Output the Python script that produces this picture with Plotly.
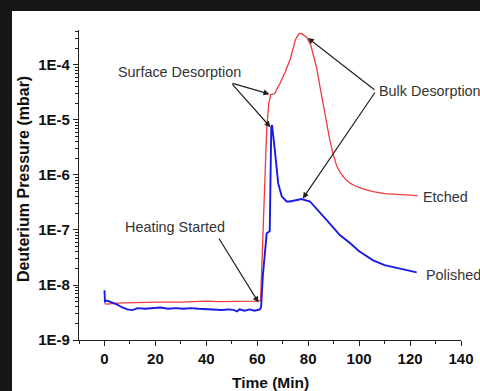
import plotly.graph_objects as go

# ---- data ----
etched_time = [0, 1, 5, 10, 20, 30, 40, 45, 50, 55, 60, 61.3, 61.8, 62.5, 63.7, 64.5, 65.3,
               66.2, 67, 68, 69, 71, 73, 75, 76.5, 77.5, 79.4, 81, 82, 83.3, 84.6, 86,
               87.2, 88.5, 89.8, 91.2, 92.6, 94.5, 96.4, 98.5, 101.5, 105.5, 110, 116, 123]
etched_pressure = [4.6e-9, 4.5e-9, 4.7e-9, 4.8e-9, 4.9e-9, 4.9e-9, 5.1e-9, 5.0e-9, 5.0e-9,
                   5.1e-9, 5.1e-9, 5.2e-9, 2.8e-8, 1.6e-7, 6.6e-6, 2.0e-5, 2.9e-5,
                   2.95e-5, 3.1e-5, 3.9e-5, 4.7e-5, 7.5e-5, 1.3e-4, 2.9e-4, 3.75e-4, 3.7e-4,
                   3.2e-4, 2.3e-4, 1.6e-4, 9e-5, 4.1e-5, 1.8e-5, 8.7e-6, 4.3e-6, 2.4e-6,
                   1.45e-6, 1.1e-6, 8.5e-7, 7.1e-7, 6.3e-7, 5.6e-7, 5.0e-7, 4.6e-7, 4.4e-7,
                   4.2e-7]

polished_time = [0, 0.2, 1, 2, 3, 5, 7, 9, 11, 13, 16, 19, 22, 25, 28, 31, 34, 37, 40, 43,
                 46, 49, 51, 52, 53, 55, 57, 59, 61, 61.5, 62.2, 63.7, 64.9, 65.5, 65.8,
                 66.9, 67.6, 68.2, 69.6, 71.5, 72.8, 75, 77.4, 80.7, 84.6, 88.5, 92.4,
                 96.4, 100, 105.5, 110, 116, 120, 122.6]
polished_pressure = [8e-9, 5e-9, 5.2e-9, 5.0e-9, 4.9e-9, 4.4e-9, 3.9e-9, 3.6e-9, 3.5e-9,
                     3.8e-9, 3.7e-9, 3.8e-9, 3.9e-9, 3.7e-9, 3.8e-9, 3.7e-9, 3.8e-9,
                     3.7e-9, 3.6e-9, 3.6e-9, 3.5e-9, 3.6e-9, 3.5e-9, 3.3e-9, 3.6e-9,
                     3.4e-9, 3.6e-9, 3.4e-9, 3.6e-9, 4e-9, 1.5e-8, 8.7e-8, 9.5e-8, 7.5e-6,
                     8.1e-6, 2.8e-6, 1.4e-6, 7.1e-7, 4.1e-7, 3.3e-7, 3.3e-7, 3.5e-7,
                     3.65e-7, 3.3e-7, 2.1e-7, 1.3e-7, 8.1e-8, 5.8e-8, 4.1e-8, 2.8e-8,
                     2.3e-8, 2.0e-8, 1.8e-8, 1.7e-8]

y_tick_values = [1e-9, 1e-8, 1e-7, 1e-6, 1e-5, 1e-4]
y_tick_labels = ["1E-9", "1E-8", "1E-7", "1E-6", "1E-5", "1E-4"]
x_tick_values = [0, 20, 40, 60, 80, 100, 120, 140]
x_title = "Time (Min)"
y_title = "Deuterium Pressure (mbar)"

FONT = "Liberation Sans, Arial, sans-serif"
TXT = "#333333"
ARROW = "#222222"

fig = go.Figure()
fig.add_trace(go.Scatter(x=etched_time, y=etched_pressure, mode="lines", name="Etched",
                         line=dict(color="#ee3b3b", width=1.3)))
fig.add_trace(go.Scatter(x=polished_time, y=polished_pressure, mode="lines", name="Polished",
                         line=dict(color="#1a1ae6", width=1.9)))

minor_y = [m * 10.0 ** e for e in range(-9, -3) for m in range(2, 10)]

# border shape (dark frame around white canvas)
fig.add_shape(type="rect", xref="paper", yref="paper",
              x0=-0.1754, x1=1.1, y0=-0.3, y1=1.0613,
              fillcolor="white", line=dict(width=0), layer="below")

def text_ann(x, logy, text, xanchor="center"):
    fig.add_annotation(x=x, y=logy, xref="x", yref="y", text=text, showarrow=False,
                       xanchor=xanchor, yanchor="middle",
                       font=dict(family=FONT, size=14.4, color=TXT))

def arrow_ann(x, logy, ax, alogy):
    fig.add_annotation(x=x, y=logy, xref="x", yref="y", ax=ax, ay=alogy,
                       axref="x", ayref="y", text="", showarrow=True,
                       arrowhead=2, arrowsize=1.0, arrowwidth=1.2, arrowcolor=ARROW,
                       standoff=0, startstandoff=0)

text_ann(29.4, -4.127, "Surface Desorption")
arrow_ann(64.8, -4.53, 49.7, -4.327)
arrow_ann(65.2, -5.13, 49.7, -4.327)

text_ann(107.0, -4.47, "Bulk Desorption", xanchor="left")
arrow_ann(79.9, -3.51, 106.6, -4.473)
arrow_ann(77.9, -6.427, 106.6, -4.473)

text_ann(27.8, -6.94, "Heating Started")
arrow_ann(60.5, -8.318, 44.6, -7.127)

text_ann(124.3, -6.395, "Etched", xanchor="left")
text_ann(125.6, -7.82, "Polished", xanchor="left")

# axis titles
fig.add_annotation(x=0.501, y=-0.136, xref="paper", yref="paper", text=x_title,
                   showarrow=False, xanchor="center", yanchor="middle",
                   font=dict(family=FONT, size=15.5, weight="bold", color="#111"))
fig.add_annotation(x=-0.1466, y=0.519, xref="paper", yref="paper", text=y_title,
                   showarrow=False, xanchor="center", yanchor="middle", textangle=-90,
                   font=dict(family=FONT, size=16, weight="bold", color="#111"))

fig.update_layout(
    width=480, height=391,
    margin=dict(l=79, r=19, t=30, b=51),
    paper_bgcolor="#161616",
    plot_bgcolor="white",
    showlegend=False,
    font=dict(family=FONT, color="#111111"),
    xaxis=dict(
        range=[-10, 140], tickmode="array", tickvals=x_tick_values, automargin=False,
        ticks="outside", ticklen=5, tickwidth=1.2, tickcolor="#222",
        showline=True, linecolor="#222", linewidth=1.2, showgrid=False, zeroline=False,
        tickfont=dict(family=FONT, size=15, weight="bold", color="#111"),
        minor=dict(dtick=10, tick0=0, ticks="outside", ticklen=3, tickcolor="#222", showgrid=False),
    ),
    yaxis=dict(
        type="log", range=[-9, -3.364], tickmode="array", automargin=False,
        tickvals=y_tick_values, ticktext=y_tick_labels,
        ticks="outside", ticklen=5, tickwidth=1.2, tickcolor="#222",
        showline=True, linecolor="#222", linewidth=1.2, showgrid=False, zeroline=False,
        tickfont=dict(family=FONT, size=15, weight="bold", color="#111"),
        minor=dict(tickmode="array", tickvals=minor_y, ticks="outside", ticklen=3,
                   tickcolor="#222", showgrid=False),
    ),
)

fig.write_html("out.html", config={"displayModeBar": False},
               post_script="document.body.style.margin='0';document.body.style.overflow='hidden';")
